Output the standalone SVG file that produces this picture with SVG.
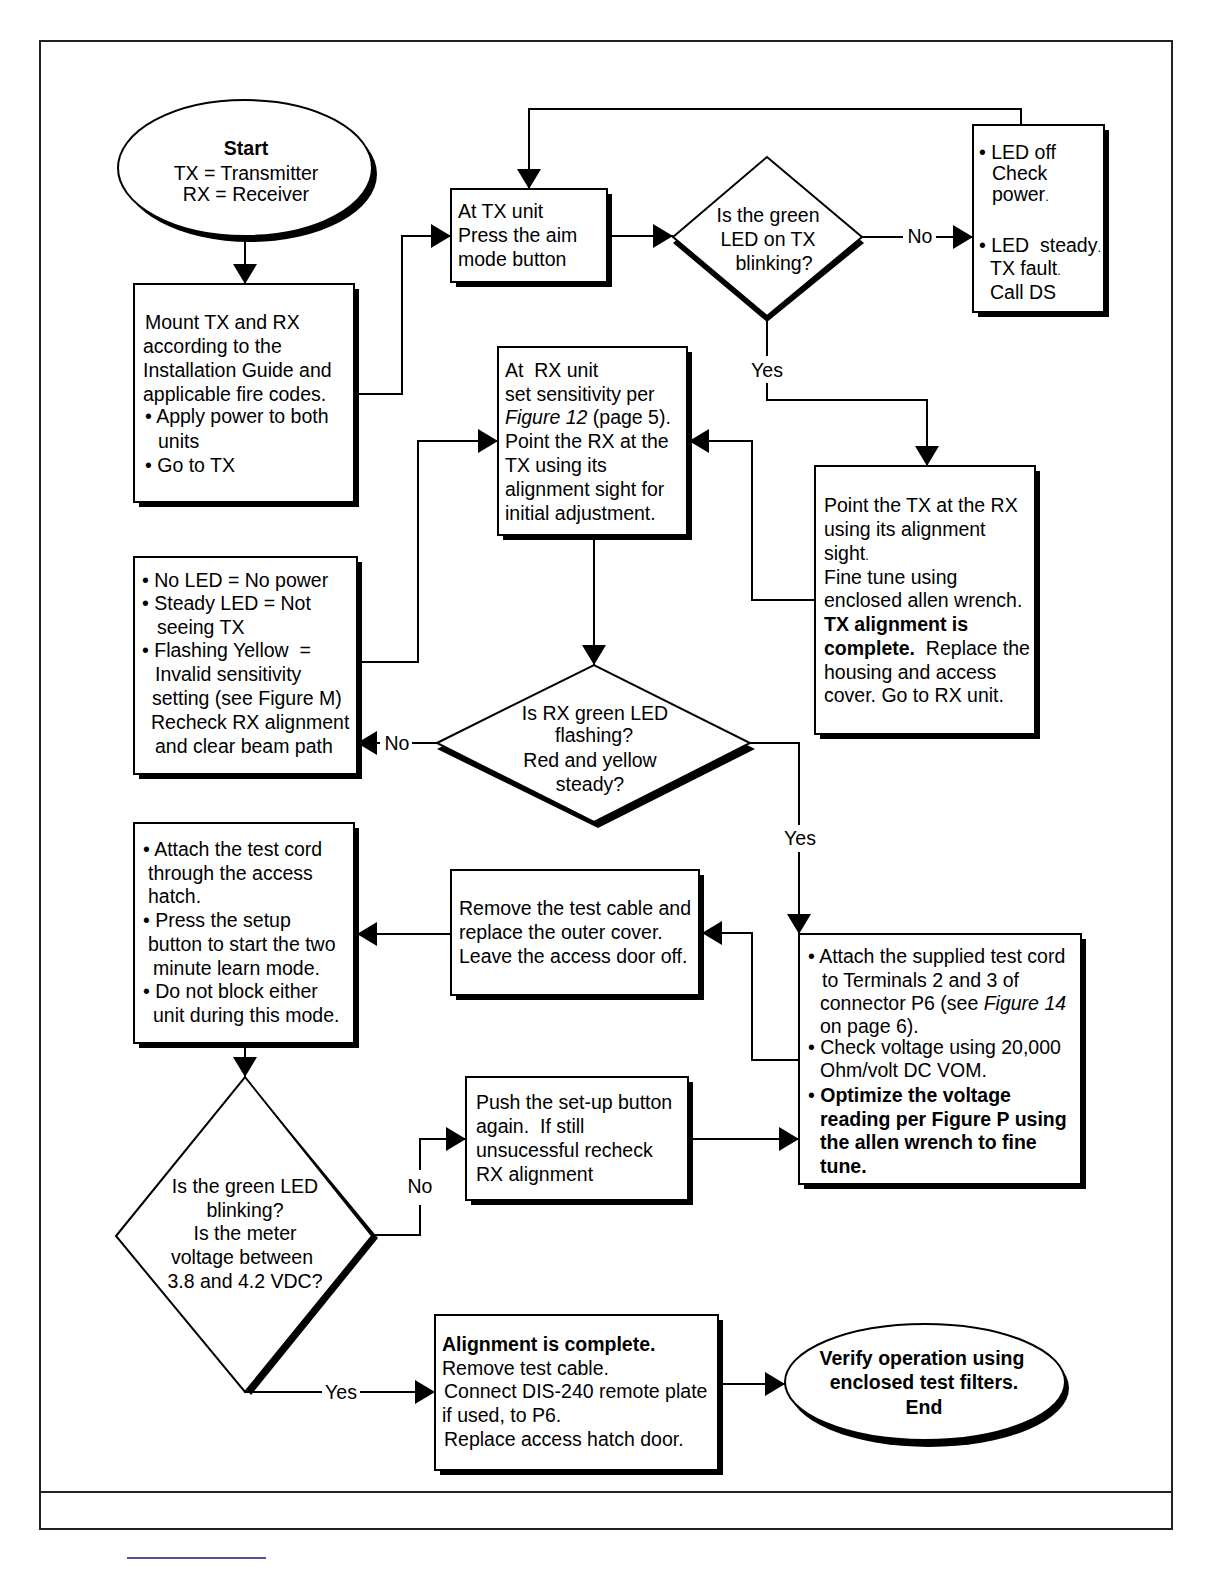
<svg xmlns="http://www.w3.org/2000/svg" width="1224" height="1584" viewBox="0 0 1224 1584">
<style>
text{font-family:"Liberation Sans",Arial,sans-serif;font-size:19.5px;fill:#000}
.b{font-weight:bold}
.i{font-style:italic}
.p{white-space:pre}
.box{fill:#fff;stroke:#000;stroke-width:2}
.sh{fill:#000}
.c{fill:none;stroke:#000;stroke-width:2}
.m{text-anchor:middle}
</style>
<defs>
<marker id="ah" viewBox="0 0 20 24" refX="20" refY="12" markerWidth="20" markerHeight="24" orient="auto" markerUnits="userSpaceOnUse"><path d="M0,0 L20,12 L0,24 z" fill="#000"/></marker>
</defs>
<rect width="1224" height="1584" fill="#fff"/>
<rect x="40" y="41" width="1132" height="1488" fill="none" stroke="#222" stroke-width="2"/>
<line x1="40" y1="1492" x2="1172" y2="1492" stroke="#222" stroke-width="2"/>
<line x1="127" y1="1558" x2="266" y2="1558" stroke="#1a1a7a" stroke-width="1.5"/>

<g id="connectors">
<path class="c" d="M245,237 V284" marker-end="url(#ah)"/>
<path class="c" d="M354,394 H402 V236 H451" marker-end="url(#ah)"/>
<path class="c" d="M607,236 H673" marker-end="url(#ah)"/>
<path class="c" d="M862,237 H903"/>
<text x="920" y="243" class="m">No</text>
<path class="c" d="M936,237 H973" marker-end="url(#ah)"/>
<path class="c" d="M1021,125 V109 H529 V189" marker-end="url(#ah)"/>
<path class="c" d="M767,316 V356"/>
<text x="767" y="377" class="m">Yes</text>
<path class="c" d="M767,383 V400 H927 V466" marker-end="url(#ah)"/>
<path class="c" d="M815,600 H752 V441 H689" marker-end="url(#ah)"/>
<path class="c" d="M594,535 V665" marker-end="url(#ah)"/>
<path class="c" d="M437,743 H412"/>
<text x="397" y="750" class="m">No</text>
<path class="c" d="M380,743 H357" marker-end="url(#ah)"/>
<path class="c" d="M357,662 H418 V441 H498" marker-end="url(#ah)"/>
<path class="c" d="M750,743 H799 V825"/>
<text x="800" y="845" class="m">Yes</text>
<path class="c" d="M799,852 V934" marker-end="url(#ah)"/>
<path class="c" d="M799,1060 H752 V933 H702" marker-end="url(#ah)"/>
<path class="c" d="M451,934 H357" marker-end="url(#ah)"/>
<path class="c" d="M245,1043 V1077" marker-end="url(#ah)"/>
<path class="c" d="M372,1235 H420 V1205"/>
<text x="420" y="1193" class="m">No</text>
<path class="c" d="M420,1170 V1139 H466" marker-end="url(#ah)"/>
<path class="c" d="M688,1139 H799" marker-end="url(#ah)"/>
<path class="c" d="M245,1392 H322"/>
<text x="341" y="1399" class="m">Yes</text>
<path class="c" d="M360,1392 H435" marker-end="url(#ah)"/>
<path class="c" d="M718,1384 H785" marker-end="url(#ah)"/>
</g>

<g id="start">
<ellipse class="sh" cx="250" cy="174" rx="127" ry="68"/>
<ellipse class="box" cx="245" cy="168" rx="127" ry="68"/>
<text x="246" y="155" class="m b">Start</text>
<text x="246" y="180" class="m">TX = Transmitter</text>
<text x="246" y="201" class="m">RX = Receiver</text>
</g>

<g id="mount">
<rect class="sh" x="139" y="289" width="220" height="218"/>
<rect class="box" x="134" y="284" width="220" height="218"/>
<text x="145" y="329">Mount TX and RX</text>
<text x="143" y="353">according to the</text>
<text x="143" y="377">Installation Guide and</text>
<text x="143" y="401">applicable fire codes.</text>
<text x="145" y="423">• Apply power to both</text>
<text x="158" y="448">units</text>
<text x="145" y="472">• Go to TX</text>
</g>

<g id="txunit">
<rect class="sh" x="456" y="194" width="156" height="93"/>
<rect class="box" x="451" y="189" width="156" height="93"/>
<text x="458" y="218">At TX unit</text>
<text x="458" y="242">Press the aim</text>
<text x="458" y="266">mode button</text>
</g>

<g id="dec1">
<polygon class="sh" points="673,243 767,163 864,243 767,322"/>
<polygon class="box" points="673,237 767,157 862,237 767,316"/>
<text x="768" y="222" class="m">Is the green</text>
<text x="768" y="246" class="m">LED on TX</text>
<text x="774" y="270" class="m">blinking?</text>
</g>

<g id="ledoff">
<rect class="sh" x="978" y="130" width="131" height="187"/>
<rect class="box" x="973" y="125" width="131" height="187"/>
<text x="979" y="159">• LED off</text>
<text x="992" y="180">Check</text>
<text x="992" y="201">power<tspan font-size="13">.</tspan></text>
<text x="979" y="252" class="p">• LED  steady<tspan font-size="13">.</tspan></text>
<text x="990" y="275">TX fault<tspan font-size="13">.</tspan></text>
<text x="990" y="299">Call DS</text>
</g>

<g id="txpoint">
<rect class="sh" x="820" y="471" width="220" height="268"/>
<rect class="box" x="815" y="466" width="220" height="268"/>
<text x="824" y="512">Point the TX at the RX</text>
<text x="824" y="536">using its alignment</text>
<text x="824" y="560">sight<tspan font-size="13">.</tspan></text>
<text x="824" y="584">Fine tune using</text>
<text x="824" y="607">enclosed allen wrench.</text>
<text x="824" y="631" class="b">TX alignment is</text>
<text x="824" y="655" class="p"><tspan class="b">complete.</tspan>  Replace the</text>
<text x="824" y="679">housing and access</text>
<text x="824" y="702">cover. Go to RX unit.</text>
</g>

<g id="rxunit">
<rect class="sh" x="503" y="352" width="189" height="188"/>
<rect class="box" x="498" y="347" width="189" height="188"/>
<text x="505" y="377" class="p">At  RX unit</text>
<text x="505" y="401">set sensitivity per</text>
<text x="505" y="424"><tspan class="i">Figure 12</tspan> (page 5).</text>
<text x="505" y="448">Point the RX at the</text>
<text x="505" y="472">TX using its</text>
<text x="505" y="496">alignment sight for</text>
<text x="505" y="520">initial adjustment.</text>
</g>

<g id="dec2">
<polygon class="sh" points="437,749 594,671 755,749 598,828"/>
<polygon class="box" points="437,743 594,665 750,743 594,822"/>
<text x="595" y="720" class="m">Is RX green LED</text>
<text x="594" y="742" class="m">flashing?</text>
<text x="590" y="767" class="m">Red and yellow</text>
<text x="590" y="791" class="m">steady?</text>
</g>

<g id="noled">
<rect class="sh" x="139" y="562" width="223" height="217"/>
<rect class="box" x="134" y="557" width="223" height="217"/>
<text x="142" y="587">• No LED = No power</text>
<text x="142" y="610">• Steady LED = Not</text>
<text x="157" y="634">seeing TX</text>
<text x="142" y="657" class="p">• Flashing Yellow  =</text>
<text x="155" y="681">Invalid sensitivity</text>
<text x="152" y="705">setting (see Figure M)</text>
<text x="151" y="729">Recheck RX alignment</text>
<text x="155" y="753">and clear beam path</text>
</g>

<g id="testcord">
<rect class="sh" x="804" y="939" width="282" height="250"/>
<rect class="box" x="799" y="934" width="282" height="250"/>
<text x="808" y="963">• Attach the supplied test cord</text>
<text x="822" y="987">to Terminals 2 and 3 of</text>
<text x="820" y="1010">connector P6 (see <tspan class="i">Figure 14</tspan></text>
<text x="820" y="1033">on page 6).</text>
<text x="808" y="1054">• Check voltage using 20,000</text>
<text x="820" y="1077">Ohm/volt DC VOM.</text>
<text x="808" y="1102"><tspan>• </tspan><tspan class="b">Optimize the voltage</tspan></text>
<text x="820" y="1126" class="b">reading per Figure P using</text>
<text x="820" y="1149" class="b">the allen wrench to fine</text>
<text x="820" y="1173" class="b">tune.</text>
</g>

<g id="remove">
<rect class="sh" x="456" y="875" width="248" height="125"/>
<rect class="box" x="451" y="870" width="248" height="125"/>
<text x="459" y="915">Remove the test cable and</text>
<text x="459" y="939">replace the outer cover.</text>
<text x="459" y="963">Leave the access door off.</text>
</g>

<g id="attach">
<rect class="sh" x="139" y="828" width="220" height="220"/>
<rect class="box" x="134" y="823" width="220" height="220"/>
<text x="143" y="856">• Attach the test cord</text>
<text x="148" y="880">through the access</text>
<text x="148" y="903">hatch.</text>
<text x="143" y="927">• Press the setup</text>
<text x="148" y="951">button to start the two</text>
<text x="153" y="975">minute learn mode.</text>
<text x="143" y="998">• Do not block either</text>
<text x="153" y="1022">unit during this mode.</text>
</g>

<g id="dec3">
<polygon class="sh" points="116,1236 245,1077 378,1238 251,1395"/>
<polygon class="box" points="116,1236 245,1077 372,1236 245,1392"/>
<text x="245" y="1193" class="m">Is the green LED</text>
<text x="245" y="1217" class="m">blinking?</text>
<text x="245" y="1240" class="m">Is the meter</text>
<text x="242" y="1264" class="m">voltage between</text>
<text x="245" y="1288" class="m">3.8 and 4.2 VDC?</text>
</g>

<g id="setup">
<rect class="sh" x="471" y="1082" width="222" height="123"/>
<rect class="box" x="466" y="1077" width="222" height="123"/>
<text x="476" y="1109">Push the set-up button</text>
<text x="476" y="1133" class="p">again.  If still</text>
<text x="476" y="1157">unsucessful recheck</text>
<text x="476" y="1181">RX alignment</text>
</g>

<g id="complete">
<rect class="sh" x="440" y="1320" width="283" height="155"/>
<rect class="box" x="435" y="1315" width="283" height="155"/>
<text x="442" y="1351" class="b">Alignment is complete.</text>
<text x="442" y="1375">Remove test cable.</text>
<text x="444" y="1398">Connect DIS-240 remote plate</text>
<text x="442" y="1422">if used, to P6.</text>
<text x="444" y="1446">Replace access hatch door.</text>
</g>

<g id="end">
<ellipse class="sh" cx="929" cy="1388" rx="140" ry="59"/>
<ellipse class="box" cx="925" cy="1382" rx="140" ry="58"/>
<text x="922" y="1365" class="m b">Verify operation using</text>
<text x="924" y="1389" class="m b">enclosed test filters.</text>
<text x="924" y="1414" class="m b">End</text>
</g>
</svg>
